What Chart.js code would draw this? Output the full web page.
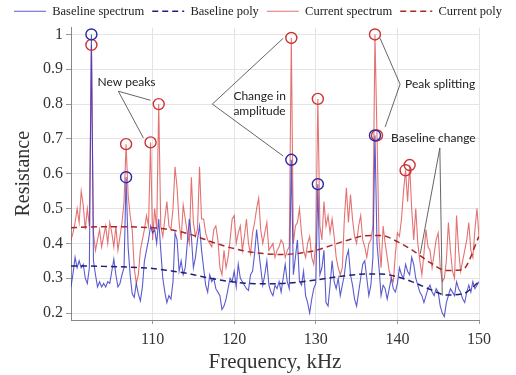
<!DOCTYPE html>
<html>
<head>
<meta charset="utf-8">
<script src="https://cdn.jsdelivr.net/npm/chart.js@4.4.1/dist/chart.umd.min.js"></script>
<style>
  html, body { margin: 0; padding: 0; background: #fff; }
</style>
</head>
<body>
<canvas id="chart" width="516" height="375"></canvas>
<script>
// spectra sampled every 0.25 kHz from 100 kHz
const freqStart = 100;
const freqStep = 0.25;

const baseSpectrum = [
  .275,.314,.36,.33,.35,.33,.34,.30,.285,.33,1.0,.35,.31,.275,.29,.275,.285,.275,.29,.285,
  .32,.355,.31,.275,.285,.31,.33,.59,.39,.31,.255,.245,.285,.255,.235,.275,.35,.38,.41,.45,.43,
  .44,.40,.47,.38,.30,.26,.23,.25,.24,.29,.43,.41,.32,.35,.31,.33,.40,.47,.42,.33,
  .36,.41,.45,.38,.33,.28,.26,.31,.29,.30,.27,.26,.25,.21,.22,.24,.27,.30,.29,.32,
  .275,.34,.30,.29,.28,.27,.265,.31,.32,.37,.44,.38,.33,.28,.31,.35,.28,.26,.25,.28,
  .27,.29,.26,.30,.34,.29,.27,.64,.31,.36,.41,.29,.28,.32,.25,.23,.20,.24,.27,.285,
  .57,.31,.33,.38,.23,.22,.28,.35,.29,.27,.30,.25,.28,.31,.36,.38,.31,.28,.24,.22,
  .26,.30,.34,.35,.30,.25,.28,.36,.71,.40,.33,.25,.28,.27,.24,.27,.30,.27,.26,.285,
  .33,.31,.30,.34,.32,.31,.36,.34,.30,.28,.26,.25,.23,.25,.27,.28,.26,.25,.27,.26,
  .22,.20,.19,.23,.25,.27,.26,.25,.29,.27,.26,.24,.23,.26,.28,.26,.29,.27,.28,.29
];

const curSpectrum = [
  .41,.43,.46,.50,.46,.55,.51,.44,.50,.45,.97,.43,.38,.41,.44,.39,.42,.45,.40,.46,
  .43,.39,.45,.38,.42,.46,.52,.685,.54,.48,.44,.33,.285,.31,.38,.41,.44,.48,.45,.69,.41,
  .50,.44,.80,.45,.42,.47,.52,.45,.44,.50,.62,.56,.46,.41,.51,.47,.43,.40,.59,.46,
  .42,.44,.62,.47,.47,.43,.41,.40,.39,.44,.45,.41,.33,.31,.38,.33,.36,.41,.47,.48,
  .40,.43,.45,.38,.42,.47,.40,.37,.43,.46,.50,.53,.44,.40,.43,.46,.38,.39,.40,.36,
  .38,.39,.41,.40,.36,.38,.39,.99,.40,.45,.46,.50,.43,.38,.36,.40,.42,.36,.34,.40,
  .815,.45,.41,.52,.45,.48,.43,.47,.42,.36,.33,.31,.33,.47,.56,.46,.54,.47,.42,.40,
  .45,.48,.41,.39,.36,.40,.41,.45,1.0,.71,.41,.33,.45,.40,.36,.32,.30,.29,.37,.43,
  .42,.47,.55,.61,.52,.625,.50,.41,.50,.40,.35,.31,.37,.44,.39,.38,.33,.37,.41,.43,
  .33,.29,.30,.35,.46,.38,.32,.30,.48,.38,.32,.35,.38,.41,.46,.38,.36,.44,.50,.42
];

// polynomial fits, every 2 kHz from 100 kHz
const polyStep = 2;
const basePoly = [.335,.335,.334,.333,.331,.328,.322,.315,.305,.296,.289,.285,.284,
  .285,.289,.295,.302,.308,.312,.312,.304,.288,.268,.252,.255,.29];
const curPoly = [.445,.447,.448,.448,.447,.445,.44,.43,.415,.398,.385,.375,.37,
  .368,.372,.38,.395,.41,.422,.423,.405,.378,.345,.322,.325,.42];

// marked peaks
const basePeakFreq = [102.5, 106.75, 127, 130.25, 137.25];
const basePeakVal = [1.0, .59, .64, .57, .71];
const curPeakFreq = [102.5, 106.75, 109.75, 110.75, 127, 130.25, 137.25, 137.5, 141, 141.5];
const curPeakVal = [.97, .685, .69, .80, .99, .815, 1.0, .71, .61, .625];

const xTicks = [110, 120, 130, 140, 150];
const yTicks = [0.2, 0.3, 0.4, 0.5, 0.6, 0.7, 0.8, 0.9, 1.0];

const seriesNames = ["Baseline spectrum", "Baseline poly", "Current spectrum", "Current poly"];

// annotation callouts (data coordinates)
const notes = [
  { text: ["New peaks"], at: [103.24, 0.863], from: [105.8, 0.837], to: [[108.87, 0.703], [109.73, 0.811]] },
  { text: ["Change in", "amplitude"], at: [119.9, 0.823], from: [117.32, 0.80], to: [[126.0, 0.989], [126.0, 0.651]] },
  { text: ["Peak splitting"], at: [140.94, 0.857], from: [140.33, 0.857], to: [[137.88, 0.989], [138.49, 0.734]] },
  { text: ["Baseline change"], at: [139.23, 0.703], from: [145.2, 0.674], to: [[142.8, 0.37], [145.5, 0.25]] }
];

const toPoints = (vals, start, step) => vals.map((v, i) => ({ x: start + i * step, y: v }));
const pairs = (xs, ys) => xs.map((x, i) => ({ x: x, y: ys[i] }));

const serif = '"Liberation Serif", "Times New Roman", serif';

const notesPlugin = {
  id: "notes",
  afterDatasetsDraw(chart) {
    const ctx = chart.ctx;
    const sx = chart.scales.x, sy = chart.scales.y;
    ctx.save();
    ctx.strokeStyle = "#555";
    ctx.lineWidth = 0.9;
    notes.forEach(n => {
      n.to.forEach(t => {
        ctx.beginPath();
        ctx.moveTo(sx.getPixelForValue(n.from[0]), sy.getPixelForValue(n.from[1]));
        ctx.lineTo(sx.getPixelForValue(t[0]), sy.getPixelForValue(t[1]));
        ctx.stroke();
      });
    });
    ctx.font = "12px Lato, sans-serif";
    ctx.fillStyle = "#222";
    ctx.textAlign = "left";
    ctx.textBaseline = "middle";
    notes.forEach(n => {
      const x = sx.getPixelForValue(n.at[0]);
      const y = sy.getPixelForValue(n.at[1]);
      n.text.forEach((line, i) => ctx.fillText(line, x, y + i * 15));
    });
    ctx.restore();
  }
};

// legend: keep the dash pattern of the line datasets
function legendLabels(chart) {
  const items = Chart.defaults.plugins.legend.labels.generateLabels(chart);
  return items.filter(it => it.datasetIndex < 4).map(it => {
    const ds = chart.data.datasets[it.datasetIndex];
    it.lineDash = ds.borderDash || [];
    it.lineWidth = ds.borderWidth;
    it.strokeStyle = ds.borderColor;
    return it;
  });
}

new Chart(document.getElementById("chart"), {
  type: "line",
  data: {
    datasets: [
      {
        label: seriesNames[0],
        data: toPoints(baseSpectrum, freqStart, freqStep),
        borderColor: "rgba(50,50,195,0.8)",
        backgroundColor: "rgba(50,50,195,0.8)",
        borderWidth: 1.1,
        pointRadius: 0,
        order: 2
      },
      {
        label: seriesNames[1],
        data: toPoints(basePoly, freqStart, polyStep),
        borderColor: "#1f1f78",
        backgroundColor: "#1f1f78",
        borderWidth: 1.5,
        borderDash: [6, 4],
        pointRadius: 0,
        cubicInterpolationMode: "monotone",
        order: 0
      },
      {
        label: seriesNames[2],
        data: toPoints(curSpectrum, freqStart, freqStep),
        borderColor: "rgba(218,60,60,0.72)",
        backgroundColor: "rgba(218,60,60,0.72)",
        borderWidth: 1.1,
        pointRadius: 0,
        order: 3
      },
      {
        label: seriesNames[3],
        data: toPoints(curPoly, freqStart, polyStep),
        borderColor: "#a82626",
        backgroundColor: "#a82626",
        borderWidth: 1.5,
        borderDash: [6, 4],
        pointRadius: 0,
        cubicInterpolationMode: "monotone",
        order: 0
      },
      {
        label: "base peaks",
        data: pairs(basePeakFreq, basePeakVal),
        showLine: false,
        pointRadius: 5.5,
        pointBorderWidth: 1.4,
        pointBorderColor: "#2a2aa8",
        pointBackgroundColor: "rgba(0,0,0,0)",
        order: -1
      },
      {
        label: "current peaks",
        data: pairs(curPeakFreq, curPeakVal),
        showLine: false,
        pointRadius: 5.5,
        pointBorderWidth: 1.4,
        pointBorderColor: "#cc3333",
        pointBackgroundColor: "rgba(0,0,0,0)",
        order: -1
      }
    ]
  },
  options: {
    responsive: false,
    animation: false,
    layout: { padding: { left: 0, right: 0, top: -3, bottom: 0 } },
    plugins: {
      tooltip: { enabled: false },
      legend: {
        position: "top",
        labels: {
          usePointStyle: true,
          pointStyle: "line",
          pointStyleWidth: 32,
          padding: 8,
          color: "#222",
          font: { family: serif, size: 12.5 },
          generateLabels: legendLabels,
          sort: (a, b) => a.datasetIndex - b.datasetIndex
        }
      }
    },
    scales: {
      x: {
        type: "linear",
        min: 100,
        max: 150,
        afterBuildTicks: s => { s.ticks = xTicks.map(v => ({ value: v })); },
        afterFit: s => { s.height = 55; },
        ticks: { color: "#333", font: { family: serif, size: 16 }, padding: 6, maxRotation: 0 },
        grid: { color: "#e4e4e4", tickLength: 4, tickColor: "#999" },
        border: { color: "#888" },
        title: { display: true, text: "Frequency, kHz", color: "#333", font: { family: serif, size: 21 }, padding: { top: 0, bottom: 0 } }
      },
      y: {
        min: 0.18,
        max: 1.02,
        afterBuildTicks: s => { s.ticks = yTicks.map(v => ({ value: v })); },
        afterFit: s => { s.width = 71; },
        ticks: { color: "#333", font: { family: serif, size: 16 }, padding: 3, callback: v => String(+v.toFixed(1)) },
        grid: { color: "#e4e4e4", tickLength: 5, tickColor: "#999" },
        border: { color: "#888" },
        title: { display: true, text: "Resistance", color: "#333", font: { family: serif, size: 20 }, padding: { top: 12, bottom: 0 } }
      },
      // empty right margin
      yRight: {
        position: "right",
        min: 0,
        max: 1,
        afterFit: s => { s.width = 37; },
        ticks: { display: false },
        grid: { display: false, drawTicks: false },
        border: { display: false }
      }
    }
  },
  plugins: [notesPlugin]
});
</script>
</body>
</html>
